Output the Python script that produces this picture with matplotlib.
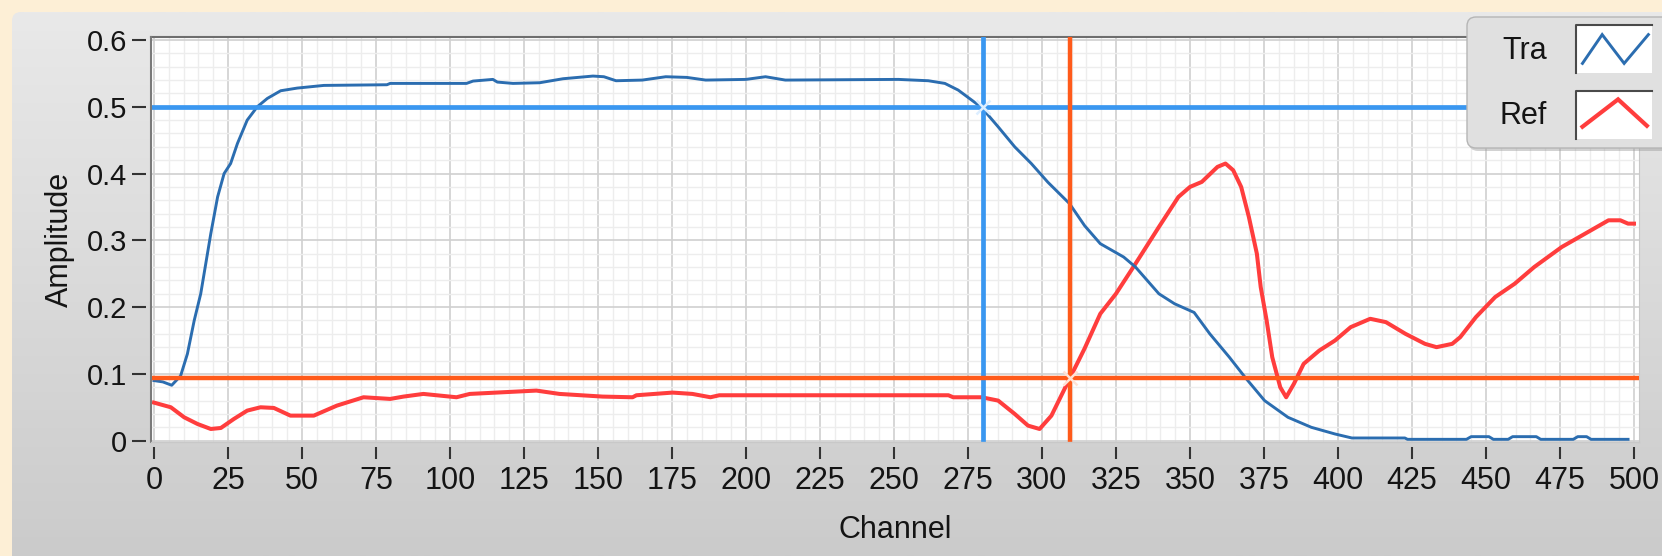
import numpy as np
import matplotlib
matplotlib.use('Agg')
import matplotlib.pyplot as plt
from matplotlib.colors import LinearSegmentedColormap
from matplotlib.patches import FancyBboxPatch, Rectangle
from matplotlib.lines import Line2D
from matplotlib.legend_handler import HandlerBase
from matplotlib.transforms import IdentityTransform

# ---- data ----
tra_ch = [0, 3, 6, 9, 11.3, 13.6, 15.8, 17.5, 19.2, 21.5, 23.7, 25.9, 28.2, 31.5,
          34.9, 38.3, 42.8, 48.4, 57.4, 78.7, 79.8, 105.6, 107.8, 114.5, 116,
          121.3, 130.3, 138.2, 148.3, 152, 156.1, 165, 172.9, 180, 186.4, 200,
          206.6, 213.3, 251.5, 261.6, 267.2, 271.7, 279.6, 285.2, 290.8, 296.4,
          302, 309.3, 314.4, 319.7, 327.6, 331.6, 339.5, 344.8, 351.4, 356.7,
          363.3, 368.6, 375.2, 383.1, 391, 399, 404.7, 422.6, 423.5, 443.4, 445,
          451, 452.5, 457.5, 459, 467, 468.5, 479.5, 481, 484, 485.5, 498]
tra_val = [0.090, 0.088, 0.083, 0.097, 0.13, 0.18, 0.22, 0.265, 0.31, 0.365, 0.40,
           0.415, 0.445, 0.48, 0.50, 0.5125, 0.524, 0.528, 0.532, 0.533, 0.535,
           0.535, 0.5385, 0.541, 0.537, 0.535, 0.536, 0.542, 0.546, 0.545, 0.539,
           0.540, 0.545, 0.544, 0.540, 0.541, 0.545, 0.540, 0.541, 0.539, 0.535,
           0.525, 0.499, 0.47, 0.44, 0.415, 0.387, 0.355, 0.322, 0.295, 0.275,
           0.26, 0.22, 0.205, 0.192, 0.16, 0.125, 0.095, 0.06, 0.035, 0.02, 0.01,
           0.004, 0.004, 0.002, 0.002, 0.006, 0.006, 0.002, 0.002, 0.006, 0.006,
           0.002, 0.002, 0.006, 0.006, 0.002, 0.002]

ref_ch = [0, 5.7, 10.2, 14.7, 19.2, 22.6, 27, 31.5, 36, 40.5, 46.1, 54, 61.8, 70.8,
          79.8, 84.3, 91, 102.2, 106.7, 129.2, 137, 151.6, 161.7, 163, 175.2,
          181.9, 188, 191, 268.4, 270, 279.6, 285.2, 290.8, 295.3, 299.2, 303.2,
          309.3, 314.4, 319.7, 325, 331.6, 339.5, 346.1, 350, 354, 359.3, 362,
          364.6, 367.3, 369.9, 372.6, 373.9, 375.9, 377.8, 380.5, 382.5, 385.1,
          388.4, 393.7, 399, 404.3, 410.9, 416.2, 422.8, 429.4, 433.3, 438.6,
          441.3, 446.6, 453.1, 459.7, 466.3, 475.6, 483.5, 491.4, 495.4, 498, 500]
ref_val = [0.057, 0.050, 0.035, 0.025, 0.0175, 0.019, 0.0325, 0.045, 0.050, 0.049,
           0.0375, 0.0375, 0.0525, 0.065, 0.0625, 0.066, 0.070, 0.065, 0.070,
           0.075, 0.070, 0.066, 0.065, 0.068, 0.072, 0.070, 0.065, 0.068, 0.068,
           0.065, 0.065, 0.06, 0.04, 0.0225, 0.0175, 0.0375, 0.0925, 0.138, 0.19,
           0.22, 0.265, 0.32, 0.365, 0.38, 0.3875, 0.41, 0.415, 0.405, 0.38, 0.335,
           0.28, 0.23, 0.18, 0.125, 0.08, 0.065, 0.085, 0.115, 0.135, 0.15, 0.17,
           0.1825, 0.1775, 0.16, 0.145, 0.14, 0.145, 0.155, 0.185, 0.215, 0.235,
           0.26, 0.29, 0.31, 0.33, 0.33, 0.325, 0.325]

cursor1 = (280, 0.5)      # blue cursor on Tra
cursor2 = (309.5, 0.094)  # orange cursor on Ref

x_ticks = list(range(0, 501, 25))
y_ticks = [0, 0.1, 0.2, 0.3, 0.4, 0.5, 0.6]

TRA_COLOR = '#2B6DB0'
REF_COLOR = '#FF3D3D'
CUR1_COLOR = '#3A97F0'
CUR2_COLOR = '#FF5A1A'
TEXT_COLOR = '#141414'

W, H = 1662, 556
fig = plt.figure(figsize=(W / 100, H / 100), dpi=100)
fig.patch.set_facecolor('#FDEFD6')

# grey LabVIEW-like panel
panel = fig.add_axes([12 / W, 0, 1 - 12 / W, 1 - 12 / H])
panel.set_zorder(0)
panel_cmap = LinearSegmentedColormap.from_list('panel', ['#E9E9E9', '#CBCBCB'])
im = panel.imshow(np.linspace(0, 1, 256).reshape(-1, 1), cmap=panel_cmap,
                  aspect='auto', extent=[0, 1, 0, 1])
clip = FancyBboxPatch((12, -30), W + 30, H - 12 + 30,
                      boxstyle='round,pad=0,rounding_size=9',
                      transform=IdentityTransform(), fc='none', ec='none')
im.set_clip_path(clip)
panel.axis('off')

# plot area
left_px, right_px, top_px, bot_px = 151, 1639, 37, 442
ax = fig.add_axes([left_px / W, 1 - bot_px / H, (right_px - left_px) / W,
                   (bot_px - top_px) / H])
ax.set_zorder(1)
ax.set_facecolor('white')

ax.plot(ref_ch, ref_val, color=REF_COLOR, lw=2.9, zorder=3,
        solid_joinstyle='round', label='Ref')
ax.plot(tra_ch, tra_val, color=TRA_COLOR, lw=2.1, zorder=3.5,
        solid_joinstyle='round', label='Tra')

ax.axvline(cursor1[0], color=CUR1_COLOR, lw=3.4, zorder=4)
ax.axhline(cursor1[1], color=CUR1_COLOR, lw=3.4, zorder=4)
ax.axvline(cursor2[0], color=CUR2_COLOR, lw=3.2, zorder=4)
ax.axhline(cursor2[1], color=CUR2_COLOR, lw=3.2, zorder=4)
ax.plot(*cursor1, marker='x', ms=10, mew=1.8, color='#DDEEFF', zorder=5)
ax.plot(*cursor2, marker='x', ms=10, mew=1.8, color='#FFE3D6', zorder=5)

ax.set_xlim(-1, 501.7)
ax.set_ylim(-0.002, 0.6045)
ax.set_xticks(x_ticks)
ax.set_xticks(np.arange(0, 501, 5), minor=True)
ax.set_yticks(y_ticks, labels=[f'{v:g}' for v in y_ticks])
ax.set_yticks(np.arange(0, 0.601, 0.02), minor=True)
ax.grid(which='minor', color='#EDEDED', lw=1.0, zorder=0)
ax.grid(which='major', color='#D0D0D0', lw=1.2, zorder=0)
ax.set_axisbelow(True)

for side in ['left', 'bottom']:
    ax.spines[side].set_position(('outward', 3.6))
    ax.spines[side].set_color('none')
ax.spines['top'].set_color('#6E6E6E')
ax.spines['top'].set_linewidth(1.5)
ax.spines['right'].set_color('#C8C8C8')
ax.add_line(Line2D([0, 0], [0, 1], transform=ax.transAxes, color='#7A7A7A',
                   lw=1.5, clip_on=False, zorder=6))
ax.add_line(Line2D([0, 1], [0, 0], transform=ax.transAxes, color='#C8C8C8',
                   lw=1.0, clip_on=False, zorder=6))

ax.tick_params(which='minor', length=0)
ax.tick_params(axis='y', which='major', length=10, width=1.5, color='#333333',
               pad=3.5, labelsize=21, labelcolor=TEXT_COLOR,
               labelfontfamily='Liberation Sans')
ax.tick_params(axis='x', which='major', length=8.5, width=1.5, color='#333333',
               pad=5, labelsize=22, labelcolor=TEXT_COLOR,
               labelfontfamily=['Liberation Sans Narrow', 'Liberation Sans'])

ax.set_xlabel('Channel', fontsize=22, family='Liberation Sans', color=TEXT_COLOR,
              va='center')
ax.xaxis.set_label_coords(0.5, (bot_px - 530) / (bot_px - top_px))
ax.set_ylabel('Amplitude', fontsize=22, family='Liberation Sans', color=TEXT_COLOR,
              va='center')
ax.yaxis.set_label_coords((60 - left_px) / (right_px - left_px), 0.5)


# legend: label, then a white swatch with a zigzag
class ZigzagHandler(HandlerBase):
    def __init__(self, pts):
        super().__init__()
        self.pts = pts

    def create_artists(self, legend, orig_handle, xdescent, ydescent, width,
                       height, fontsize, trans):
        x0, y0 = -xdescent, -ydescent
        box = Rectangle((x0, y0), width, height, fc='white', ec='none',
                        transform=trans)
        edge = Line2D([x0, x0, x0 + width], [y0, y0 + height, y0 + height],
                      color='#4A4A4A', lw=1.5, transform=trans)
        xs = [x0 + p[0] * width for p in self.pts]
        ys = [y0 + p[1] * height for p in self.pts]
        zig = Line2D(xs, ys, color=orig_handle.get_color(),
                     lw=orig_handle.get_linewidth(), transform=trans,
                     solid_joinstyle='miter')
        return [box, edge, zig]


shadow = FancyBboxPatch((1469, H - 151), 260, 133, boxstyle='round,pad=0,rounding_size=9',
                        transform=IdentityTransform(), fc='#9C9C9C', ec='none',
                        alpha=0.45, zorder=2)
legbox = FancyBboxPatch((1467, H - 148), 260, 131, boxstyle='round,pad=0,rounding_size=9',
                        transform=IdentityTransform(), fc='#E0E0E0', ec='#B5B5B5',
                        lw=1.0, zorder=3)
fig.patches.extend([shadow, legbox])

tra_handle = Line2D([], [], color=TRA_COLOR, lw=2.1)
ref_handle = Line2D([], [], color=REF_COLOR, lw=3.0)
leg = fig.legend([tra_handle, ref_handle], ['Tra', 'Ref'],
                 loc='upper left', bbox_to_anchor=(1500 / W, 1 - 25 / H),
                 frameon=False, markerfirst=False, borderpad=0, borderaxespad=0,
                 prop={'family': 'Liberation Sans', 'size': 22},
                 handlelength=2.48, handleheight=2.04, handletextpad=0.95,
                 labelspacing=0.58, labelcolor=TEXT_COLOR,
                 handler_map={tra_handle: ZigzagHandler([(0.08, 0.2), (0.34, 0.8),
                                                         (0.63, 0.2), (0.95, 0.8)]),
                              ref_handle: ZigzagHandler([(0.08, 0.25), (0.55, 0.82),
                                                         (0.93, 0.27)])})
leg.set_zorder(5)

fig.savefig('out.png', dpi=100, facecolor=fig.get_facecolor())
